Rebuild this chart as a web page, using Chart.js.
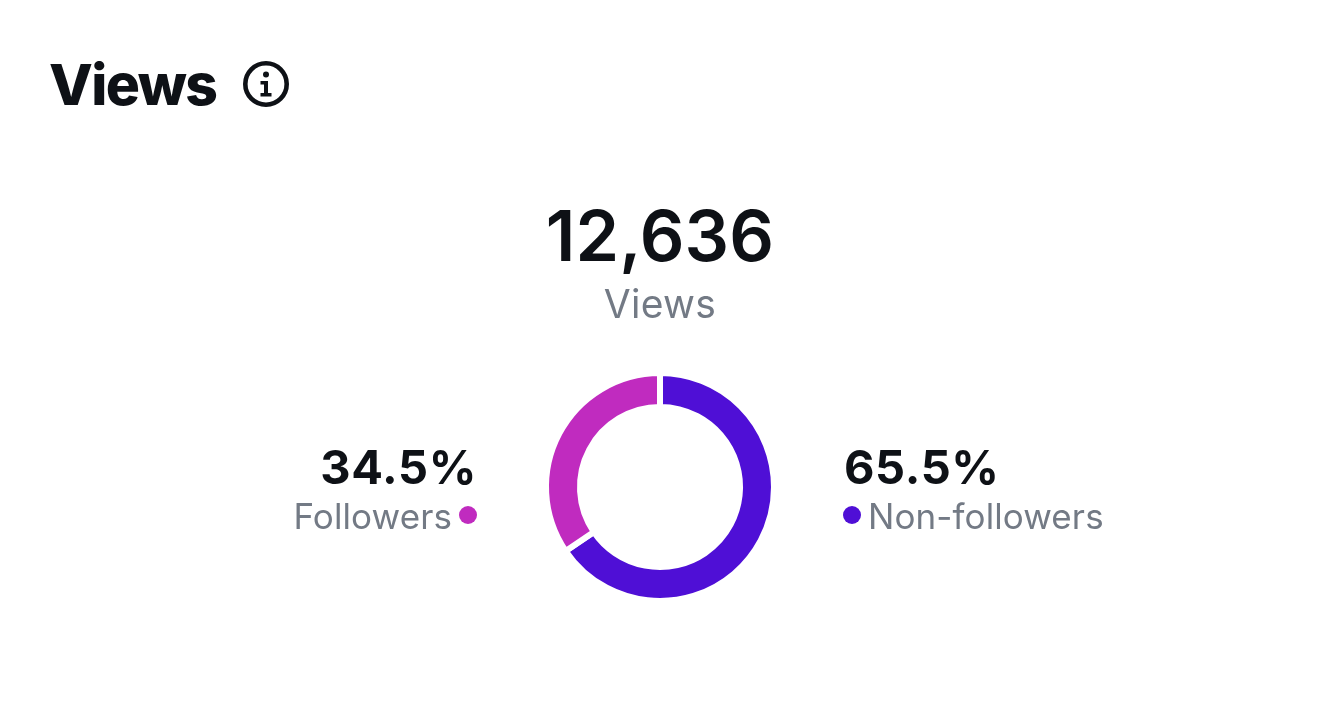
<!DOCTYPE html>
<html><head><meta charset="utf-8">
<style>
html,body{margin:0;padding:0;background:#fff;width:1320px;height:703px;overflow:hidden}
#w{position:absolute;left:0;top:0;width:1320px;height:703px}
.t{position:absolute;white-space:nowrap;font-family:Inter,Roboto,sans-serif;line-height:1}
</style>
<script src="https://cdn.jsdelivr.net/npm/chart.js@4/dist/chart.umd.min.js"></script>
</head><body>
<div id="w"><canvas id="c" width="1320" height="703"></canvas>
<div class="t" style="left:49px;top:56px;font-size:57px;font-weight:800;color:#0e1116;letter-spacing:-1.6px">Views</div>
<svg style="position:absolute;left:243px;top:61px" width="46" height="46" viewBox="0 0 46 46"><circle cx="23" cy="23" r="20.7" fill="none" stroke="#0e1116" stroke-width="4.6"/><circle cx="23" cy="13.5" r="3" fill="#0e1116"/><path d="M17.5 20h7.5v12h3.5v3.5h-11V32h3.5v-8.5h-3.5z" fill="#0e1116"/></svg>
<div class="t" style="left:0;width:1320px;text-align:center;top:201px;font-size:70px;font-weight:600;color:#0e1116;letter-spacing:0.1px">12,636</div>
<div class="t" style="left:0;width:1320px;text-align:center;top:284px;font-size:39px;font-weight:400;color:#737a85;letter-spacing:0.3px">Views</div>
<div class="t" id="lv" style="right:843px;top:443px;font-size:47px;font-weight:700;color:#0e1116;letter-spacing:0.6px"></div>
<div class="t" id="ln" style="right:868px;top:499px;font-size:35px;color:#737a85;letter-spacing:0.1px"></div>
<div class="t" id="rv" style="left:844px;top:443px;font-size:47px;font-weight:700;color:#0e1116;letter-spacing:0.6px"></div>
<div class="t" id="rn" style="left:868px;top:499px;font-size:35px;color:#737a85;letter-spacing:0.1px"></div>
<div id="ld" style="position:absolute;left:459px;top:506px;width:18px;height:18px;border-radius:50%"></div>
<div id="rd" style="position:absolute;left:843px;top:506px;width:18px;height:18px;border-radius:50%"></div>
</div>
<script>
const categories=["Non-followers","Followers"];
const shares=[65.5,34.5];
const colours=["#4f0fd6","#c02bbf"];
const totalViews="12,636";
document.getElementById('lv').textContent=shares[1].toFixed(1)+'%';
document.getElementById('rv').textContent=shares[0].toFixed(1)+'%';
document.getElementById('ln').textContent=categories[1];
document.getElementById('rn').textContent=categories[0];
document.getElementById('ld').style.background=colours[1];
document.getElementById('rd').style.background=colours[0];
new Chart(document.getElementById('c'),{
 type:'doughnut',
 data:{labels:categories,datasets:[{data:shares,backgroundColor:colours,borderColor:'#fff',borderWidth:6,borderAlign:'center'}]},
 options:{responsive:false,animation:false,events:[],cutout:'70.2%',
  layout:{padding:{left:543,right:543,top:370,bottom:99}},
  plugins:{legend:{display:false},tooltip:{enabled:false},title:{display:false}}}
});
</script>
</body></html>
